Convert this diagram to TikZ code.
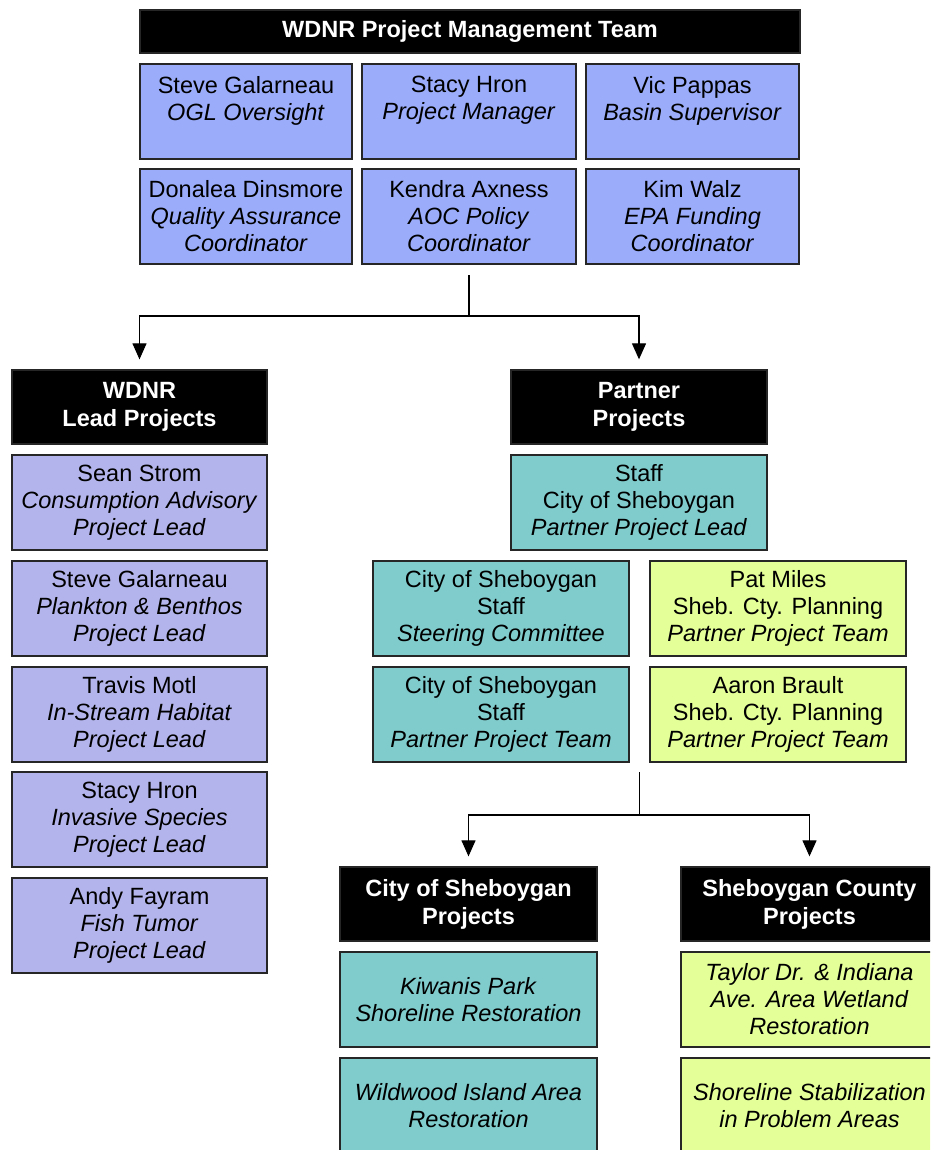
\documentclass[tikz,border=0pt]{standalone}
\usepackage{fontspec}
\setmainfont{Liberation Sans}
\usetikzlibrary{arrows.meta}
\definecolor{pmblue}{RGB}{155,172,250}
\definecolor{leadlav}{RGB}{180,180,236}
\definecolor{cityteal}{RGB}{128,203,204}
\definecolor{countylime}{RGB}{228,254,152}
\tikzset{
  box/.style={draw=black!85,line width=1.3pt,inner sep=0pt,align=center,
    font=\fontsize{23.5}{27}\selectfont,minimum height=95pt},
  head/.style={box,fill=black,text=white,minimum height=74pt,
    font=\fontsize{23.5}{28}\selectfont\bfseries},
  pm/.style={box,fill=pmblue},
  lead/.style={box,fill=leadlav,minimum width=255pt},
  city/.style={box,fill=cityteal,minimum width=256pt},
  county/.style={box,fill=countylime,minimum width=256pt},
  link/.style={line width=1.2pt},
  arr/.style={link,-{Triangle[length=16pt,width=14pt]},shorten >=10pt}
}
\begin{document}
\begin{tikzpicture}[x=1pt,y=-1pt]
\useasboundingbox (0,0) rectangle (930,1150);
\clip (0,0) rectangle (930,1150);
% management team
\node[head,minimum width=660pt,minimum height=43pt] (mgmt) at (470,31.5) {WDNR Project Management Team};
\node[pm,minimum width=212pt] (galarneau) at (246,111.5) {Steve Galarneau\\\textit{OGL Oversight}\\\mbox{}};
\node[pm,minimum width=214pt] (hron) at (469,111.5) {Stacy Hron\\\textit{Project Manager}\\\mbox{}};
\node[pm,minimum width=213pt] (pappas) at (692.5,111.5) {Vic Pappas\\\textit{Basin Supervisor}\\\mbox{}};
\node[pm,minimum width=212pt] (dinsmore) at (246,216.5) {Donalea Dinsmore\\\textit{Quality Assurance}\\\textit{Coordinator}};
\node[pm,minimum width=214pt] (axness) at (469,216.5) {Kendra Axness\\\textit{AOC Policy}\\\textit{Coordinator}};
\node[pm,minimum width=213pt] (walz) at (692.5,216.5) {Kim Walz\\\textit{EPA Funding}\\\textit{Coordinator}};
% WDNR lead projects
\node[head,minimum width=255pt] (wdnrlead) at (139.5,407) {WDNR\\Lead Projects};
\node[lead] (strom) at (139.5,502.5) {Sean Strom\\\textit{Consumption Advisory}\\\textit{Project Lead}};
\node[lead] (plankton) at (139.5,608.5) {Steve Galarneau\\\textit{Plankton \& Benthos}\\\textit{Project Lead}};
\node[lead] (motl) at (139.5,714.5) {Travis Motl\\\textit{In-Stream Habitat}\\\textit{Project Lead}};
\node[lead] (invasive) at (139.5,819.5) {Stacy Hron\\\textit{Invasive Species}\\\textit{Project Lead}};
\node[lead] (fayram) at (139.5,925.5) {Andy Fayram\\\textit{Fish Tumor}\\\textit{Project Lead}};
% partner projects
\node[head,minimum width=256pt] (partner) at (639,407) {Partner\\Projects};
\node[city] (partnerlead) at (639,502.5) {Staff\\City of Sheboygan\\\textit{Partner Project Lead}};
\node[city] (citysteer) at (501,608.5) {City of Sheboygan\\Staff\\\textit{Steering Committee}};
\node[county] (miles) at (778,608.5) {Pat Miles\\Sheb. Cty. Planning\\\textit{Partner Project Team}};
\node[city] (cityteam) at (501,714.5) {City of Sheboygan\\Staff\\\textit{Partner Project Team}};
\node[county] (brault) at (778,714.5) {Aaron Brault\\Sheb. Cty. Planning\\\textit{Partner Project Team}};
% city and county projects
\node[head,minimum width=257pt] (cityproj) at (468.5,904) {City of Sheboygan\\Projects};
\node[head,minimum width=257pt] (countyproj) at (809.5,904) {Sheboygan County\\Projects};
\node[city,minimum width=257pt] (kiwanis) at (468.5,999.5) {\textit{Kiwanis Park}\\\textit{Shoreline Restoration}};
\node[county,minimum width=257pt] (taylor) at (809.5,999.5) {\textit{Taylor Dr. \& Indiana}\\\textit{Ave. Area Wetland}\\\textit{Restoration}};
\node[city,minimum width=257pt] (wildwood) at (468.5,1105.5) {\textit{Wildwood Island Area}\\\textit{Restoration}};
\node[county,minimum width=257pt] (shoreline) at (809.5,1105.5) {\textit{Shoreline Stabilization}\\\textit{in Problem Areas}};
% connectors
\coordinate (mgmtstem) at (469,275);
\coordinate (mgmtfork) at (469,316);
\draw[link] (mgmtstem) -- (mgmtfork);
\draw[arr] (mgmtfork) -| (wdnrlead);
\draw[arr] (mgmtfork) -| (partner);
\coordinate (partnerstem) at (639.5,772);
\coordinate (partnerfork) at (639.5,815);
\draw[link] (partnerstem) -- (partnerfork);
\draw[arr] (partnerfork) -| (cityproj);
\draw[arr] (partnerfork) -| (countyproj);
\end{tikzpicture}
\end{document}
